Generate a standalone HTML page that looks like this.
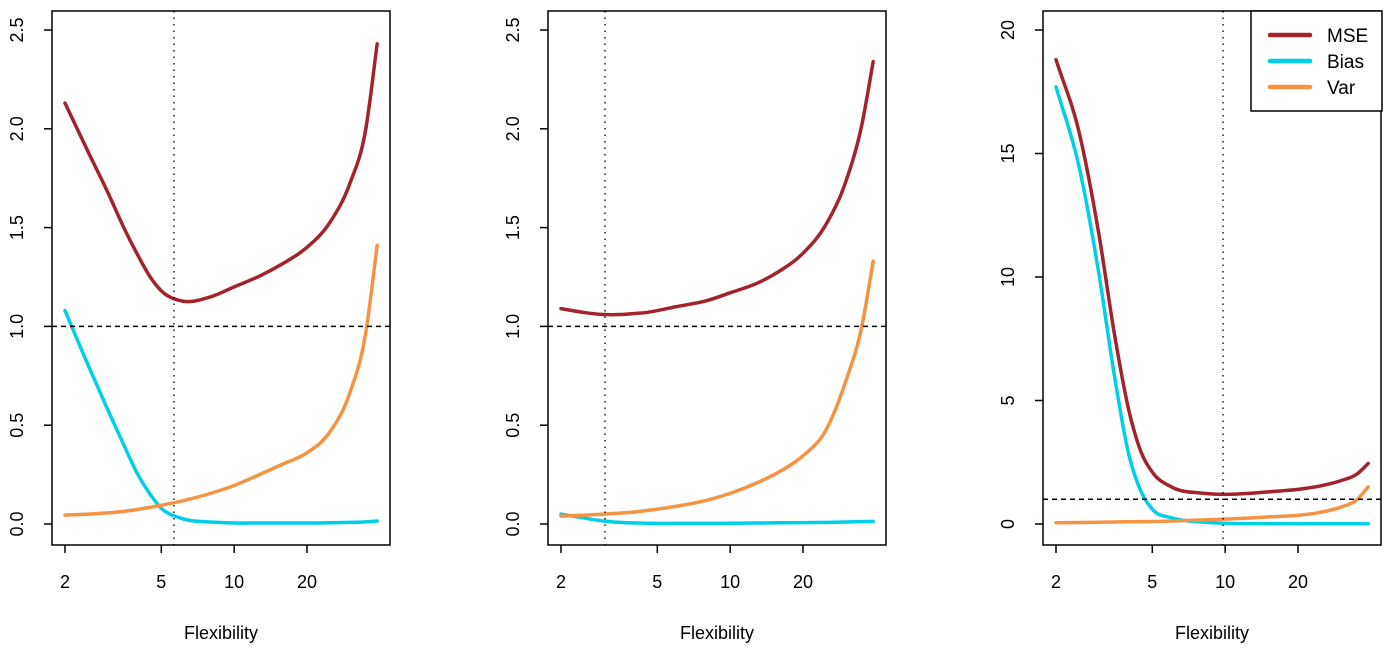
<!DOCTYPE html>
<html><head><meta charset="utf-8"><style>
body{margin:0;background:#fff}
svg{display:block;font-family:"Liberation Sans",sans-serif}
</style></head><body>
<svg id="chart" width="1396" height="659" viewBox="0 0 1396 659"></svg>
<script>
// Shared x values (flexibility)
const flex = [2,2.5,3,3.5,4,4.5,5,6,8,10,13,16,20,25,30,35,39];
// Panel 1
const mse1 = [2.13,1.88,1.68,1.50,1.36,1.25,1.18,1.13,1.15,1.20,1.26,1.32,1.40,1.53,1.72,2.0,2.43];
const bias1 = [1.08,0.80,0.58,0.40,0.25,0.15,0.08,0.03,0.01,0.005,0.005,0.005,0.005,0.006,0.008,0.011,0.015];
const var1 = [0.045,0.05,0.056,0.064,0.074,0.084,0.095,0.115,0.155,0.195,0.255,0.305,0.36,0.47,0.66,0.97,1.41];
// Panel 2
const mse2 = [1.09,1.07,1.06,1.06,1.065,1.07,1.08,1.10,1.13,1.17,1.22,1.28,1.37,1.52,1.73,2.02,2.34];
const bias2 = [0.05,0.03,0.015,0.008,0.005,0.004,0.003,0.003,0.003,0.004,0.005,0.006,0.007,0.008,0.01,0.012,0.013];
const var2 = [0.04,0.045,0.05,0.055,0.06,0.068,0.075,0.09,0.12,0.155,0.21,0.265,0.345,0.48,0.72,1.0,1.33];
// Panel 3
const mse3 = [18.8,15.8,11.8,7.6,4.6,2.9,2.1,1.5,1.25,1.2,1.25,1.32,1.4,1.55,1.75,2.02,2.45];
const bias3 = [17.7,14.4,10.2,5.9,2.8,1.3,0.6,0.25,0.08,0.03,0.015,0.01,0.01,0.01,0.01,0.01,0.01];
const var3 = [0.05,0.06,0.07,0.08,0.09,0.095,0.1,0.12,0.16,0.2,0.25,0.3,0.35,0.48,0.68,0.98,1.5];
const optimum = [5.64,3.04,9.8];
const xTicks = [2,5,10,20];
const yTicks12 = ["0.0","0.5","1.0","1.5","2.0","2.5"];
const yTicks3 = [0,5,10,15,20];
const legendLabels = ["MSE","Bias","Var"];
const colors = ["#a3232c","#00cfea","#f49443"];

const svg = document.getElementById('chart');
const NS = 'http://www.w3.org/2000/svg';
function mk(tag, attrs, parent){const e=document.createElementNS(NS,tag);for(const k in attrs)e.setAttribute(k,attrs[k]);(parent||svg).appendChild(e);return e;}
function smooth(pts){
 const n=pts.length,h=[],d=[],m=[];
 for(let i=0;i<n-1;i++){h[i]=pts[i+1][0]-pts[i][0];d[i]=(pts[i+1][1]-pts[i][1])/h[i];}
 m[0]=d[0];m[n-1]=d[n-2];
 for(let i=1;i<n-1;i++){m[i]=(d[i-1]*h[i]+d[i]*h[i-1])/(h[i-1]+h[i]);}
 let s='M'+pts[0][0].toFixed(2)+','+pts[0][1].toFixed(2);
 for(let i=0;i<n-1;i++){const a=pts[i],b=pts[i+1],k=h[i]/3;
  s+=' C'+(a[0]+k).toFixed(2)+','+(a[1]+k*m[i]).toFixed(2)+' '+(b[0]-k).toFixed(2)+','+(b[1]-k*m[i+1]).toFixed(2)+' '+b[0].toFixed(2)+','+b[1].toFixed(2);}
 return s;}

const panels=[
 {off:0,series:[mse1,bias1,var1],yt:yTicks12.map(Number),yl:yTicks12,ymax:2.5},
 {off:496,series:[mse2,bias2,var2],yt:yTicks12.map(Number),yl:yTicks12,ymax:2.5},
 {off:991,series:[mse3,bias3,var3],yt:yTicks3,yl:yTicks3.map(String),ymax:20}
];
const names=['mse','bias','var'];
panels.forEach((p,pi)=>{
 const g=mk('g',{});
 
 
 const x=v=>p.off+65+242*Math.log10(v/2);
 const y=v=>524-v*(494/p.ymax);
 const L=p.off+52,R=p.off+390,T=11,B=545;
 p.series.forEach((s,si)=>{
  const path=mk('path',{d:smooth(flex.map((f,i)=>[x(f),y(s[i])])),fill:'none',stroke:colors[si],'stroke-width':3.5,'stroke-linecap':'round','stroke-linejoin':'round'},g);
  
  
 });
 const h=mk('line',{x1:L,x2:R,y1:y(1),y2:y(1),stroke:'#000','stroke-width':1.5,'stroke-dasharray':'5,4'},g);
 
 
 const v=mk('line',{x1:x(optimum[pi]),x2:x(optimum[pi]),y1:T,y2:B,stroke:'#000','stroke-width':1.3,'stroke-dasharray':'1.5,5'},g);
 
 
 const box=mk('rect',{x:L,y:T,width:R-L,height:B-T,fill:'none',stroke:'#000','stroke-width':1.5},g);
 
 
 xTicks.forEach(t=>{
  mk('line',{x1:x(t),x2:x(t),y1:B,y2:B+8,stroke:'#000','stroke-width':1.5},g);
  const tx=mk('text',{x:x(t),y:588,'font-size':18,'text-anchor':'middle'},g);tx.textContent=t;
  
  
 });
 p.yt.forEach((t,i)=>{
  mk('line',{x1:L-8,x2:L,y1:y(t),y2:y(t),stroke:'#000','stroke-width':1.5},g);
  const tx=mk('text',{x:p.off+23,y:y(t),'font-size':18,'text-anchor':'middle',transform:'rotate(-90 '+(p.off+23)+' '+y(t)+')'},g);
  tx.textContent=p.yl[i];
  
  
 });
 const xl=mk('text',{x:(L+R)/2,y:639,'font-size':18,'text-anchor':'middle'},g);xl.textContent='Flexibility';
 
 
});
const lg=mk('g',{});


mk('rect',{x:1251,y:11,width:131,height:100,fill:'#fff',stroke:'#000','stroke-width':1.5},lg);
legendLabels.forEach((l,i)=>{
 const yy=35+i*26;
 mk('line',{x1:1270,x2:1310,y1:yy,y2:yy,stroke:colors[i],'stroke-width':4.5,'stroke-linecap':'round'},lg);
 const t=mk('text',{x:1327,y:yy+7,'font-size':19},lg);t.textContent=l;
 
 
});
</script>
</body></html>
